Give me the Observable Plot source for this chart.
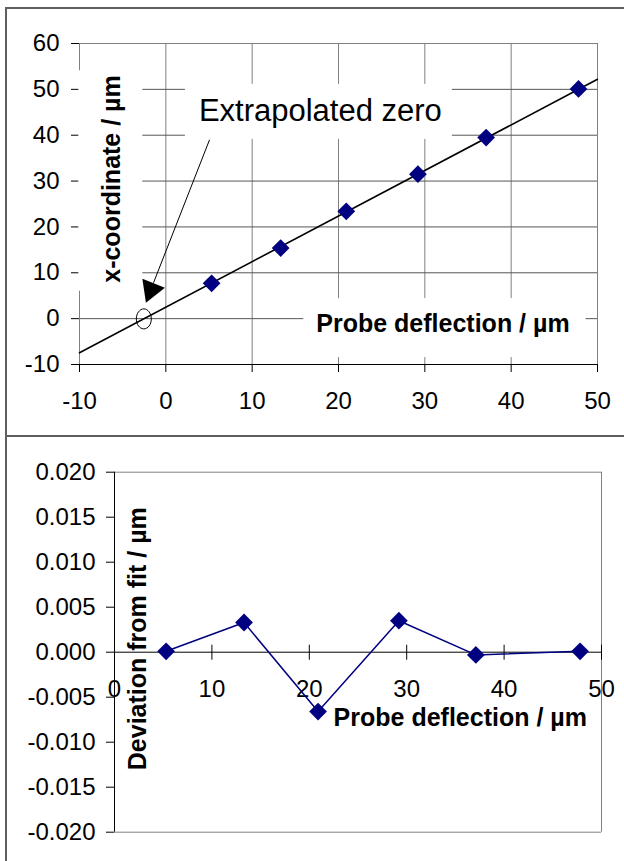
<!DOCTYPE html>
<html><head><meta charset="utf-8">
<script src="https://cdn.jsdelivr.net/npm/d3@7"></script>
<script src="https://cdn.jsdelivr.net/npm/@observablehq/plot@0.6"></script>
<style>
html,body{margin:0;padding:0;background:#fff;}
#wrap{position:relative;width:624px;height:861px;overflow:hidden;}
#wrap svg{position:absolute;left:0;}
.border{position:absolute;background:#5f5f5f;}
</style></head><body><div id="wrap"></div>
<script>
// ---- data ----
const deflection  = [5.3, 13.3, 20.9, 29.2, 37.1, 47.8];
const xCoordinate = [7.7, 15.4, 23.4, 31.5, 39.5, 50.1];
const deviation   = [0.0001, 0.0033, -0.0066, 0.0035, -0.0003, 0.0001];
const fitX = [-10, 50];
const fitY = [-7.45, 52.2];

const topXTicks = [-10, 0, 10, 20, 30, 40, 50];
const topYTicks = [-10, 0, 10, 20, 30, 40, 50, 60];
const botXTicks = [0, 10, 20, 30, 40, 50];
const botYTicks = [-0.02, -0.015, -0.01, -0.005, 0, 0.005, 0.01, 0.015, 0.02];

const xTitle = "Probe deflection / µm";
const yTitleTop = "x-coordinate / µm";
const yTitleBottom = "Deviation from fit / µm";
const zeroText = "Extrapolated zero";

// annotation anchors (data units)
const zeroLabelAt = [17.9, 45.3];
const zeroMarkAt  = [-2.55, -0.05];
const arrowFrom   = [5.06, 39.0];
const arrowTo     = [-1.43, 7.8];
const arrowHeadAt = [-1.71, 6.3];
const topXTitleAt = [32.1, -1.2];
const topYTitleAt = [-6.2, 30.45];
const botXTitleAt = [35.5, -0.0073];
const botYTitleAt = [2.41, 0.0015];

// ---- helpers ----
const FONT = "Arial, 'Liberation Sans', Helvetica, sans-serif";
const wrap = document.getElementById("wrap");
const fmtTop = d => String(d);
const fmtBot = d => d3.format(".3f")(d).replace("\u2212", "-");
const at = p => [{x: p[0], y: p[1]}];

const ellipseSymbol = {
  draw(ctx, size) {
    const r = Math.sqrt(size / Math.PI), rx = r * 0.75, ry = r, k = 0.5523;
    ctx.moveTo(rx, 0);
    ctx.bezierCurveTo(rx, ry * k, rx * k, ry, 0, ry);
    ctx.bezierCurveTo(-rx * k, ry, -rx, ry * k, -rx, 0);
    ctx.bezierCurveTo(-rx, -ry * k, -rx * k, -ry, 0, -ry);
    ctx.bezierCurveTo(rx * k, -ry, rx, -ry * k, rx, 0);
    ctx.closePath();
  }
};

// white label boxes behind the given texts (pads: top, right, bottom, left in text frame)
function addBoxes(svg, pads) {
  svg.querySelectorAll("text").forEach(t => {
    const pad = pads[t.textContent.trim()];
    if (!pad) return;
    const b = t.getBBox();
    const r = document.createElementNS("http://www.w3.org/2000/svg", "rect");
    r.setAttribute("x", b.x - pad[3]);
    r.setAttribute("y", b.y - pad[0]);
    r.setAttribute("width", b.width + pad[1] + pad[3]);
    r.setAttribute("height", b.height + pad[0] + pad[2]);
    r.setAttribute("fill", "white");
    r.setAttribute("stroke", "none");
    const tr = t.getAttribute("transform");
    if (tr) r.setAttribute("transform", tr);
    t.parentNode.insertBefore(r, t);
  });
}

// ---- top chart ----
const pts = deflection.map((d, i) => ({x: d, y: xCoordinate[i]}));
const fit = fitX.map((d, i) => ({x: d, y: fitY[i]}));

const topChart = Plot.plot({
  width: 624, height: 434,
  marginLeft: 79, marginRight: 27, marginTop: 43, marginBottom: 70,
  x: {domain: [-10, 50]},
  y: {domain: [-10, 60]},
  style: {fontFamily: FONT, fontSize: "24px", color: "black", background: "transparent"},
  marks: [
    Plot.gridX(topXTicks.slice(1, -1), {stroke: "#808080", strokeOpacity: 1}),
    Plot.gridY(topYTicks.slice(1, -1), {stroke: "#555", strokeOpacity: 1}),
    Plot.ruleY([60], {stroke: "#808080"}),
    Plot.ruleX([50, -10], {stroke: "#808080"}),
    Plot.ruleY([-10], {stroke: "black"}),
    Plot.axisX(topXTicks, {anchor: "bottom", tickSize: 8, tickPadding: 19, label: null, tickFormat: fmtTop, fontSize: 24}),
    Plot.axisY(topYTicks, {anchor: "left", tickSize: 8, tickPadding: 12, label: null, tickFormat: fmtTop, fontSize: 24}),
    Plot.text(at(zeroLabelAt), {x: "x", y: "y", text: () => zeroText, fontSize: 31}),
    Plot.text(at(topXTitleAt), {x: "x", y: "y", text: () => xTitle, fontSize: 25, fontWeight: "bold"}),
    Plot.text(at(topYTitleAt), {x: "x", y: "y", text: () => yTitleTop, fontSize: 25, fontWeight: "bold", rotate: -90}),
    Plot.line(fit, {x: "x", y: "y", stroke: "black", strokeWidth: 1.6}),
    Plot.dot(pts, {x: "x", y: "y", symbol: "diamond2", r: 8, fill: "#000080", stroke: "none"}),
    Plot.link([{x1: arrowFrom[0], y1: arrowFrom[1], x2: arrowTo[0], y2: arrowTo[1]}], {x1: "x1", y1: "y1", x2: "x2", y2: "y2", stroke: "black", strokeWidth: 1}),
    Plot.dot(at(arrowHeadAt), {x: "x", y: "y", symbol: "triangle", r: 9, rotate: 201.6, fill: "black", stroke: "none"}),
    Plot.dot(at(zeroMarkAt), {x: "x", y: "y", symbol: ellipseSymbol, r: 10, fill: "none", stroke: "black", strokeWidth: 1})
  ]
});
topChart.style.top = "0px";
wrap.appendChild(topChart);
addBoxes(topChart, {
  [zeroText]: [9, 10, 11, 14],
  [xTitle]: [11, 16, 20, 13],
  [yTitleTop]: [19, 5, 17, 8]
});

// ---- bottom chart ----
const BH = 425, BMT = 35.7, BMB = 29.3;
const yb = Plot.scale({y: {domain: [-0.02, 0.02], range: [BH - BMB, BMT]}});
const axisDy = (yb.apply(0) - 7) - (BH - BMB);
const dev = deflection.map((d, i) => ({x: d, y: deviation[i]}));

const botChart = Plot.plot({
  width: 624, height: BH,
  marginLeft: 114, marginRight: 23, marginTop: BMT, marginBottom: BMB,
  x: {domain: [0, 50]},
  y: {domain: [-0.02, 0.02]},
  style: {fontFamily: FONT, fontSize: "24px", color: "black", background: "transparent"},
  marks: [
    Plot.ruleY([0.02, -0.02], {stroke: "#808080"}),
    Plot.ruleX([50], {stroke: "#808080"}),
    Plot.ruleX([0], {stroke: "black"}),
    Plot.ruleY([0], {stroke: "black"}),
    Plot.axisY(botYTicks, {anchor: "left", tickSize: 8, tickPadding: 11, label: null, tickFormat: fmtBot, fontSize: 24}),
    Plot.axisX(botXTicks, {anchor: "bottom", tickSize: 15, tickPadding: 20, label: null, tickFormat: fmtTop, fontSize: 24, dy: axisDy}),
    Plot.line(dev, {x: "x", y: "y", stroke: "#000080", strokeWidth: 1.5}),
    Plot.dot(dev, {x: "x", y: "y", symbol: "diamond2", r: 8, fill: "#000080", stroke: "none"}),
    Plot.text(at(botYTitleAt), {x: "x", y: "y", text: () => yTitleBottom, fontSize: 25, fontWeight: "bold", rotate: -90}),
    Plot.text(at(botXTitleAt), {x: "x", y: "y", text: () => xTitle, fontSize: 25, fontWeight: "bold"})
  ]
});
botChart.style.top = "436px";
wrap.appendChild(botChart);

// ---- panel borders ----
for (const [l, t, w, h] of [[5, 7, 619, 2], [5, 7, 2, 854], [5, 435, 619, 2]]) {
  const d = document.createElement("div");
  d.className = "border";
  Object.assign(d.style, {left: l + "px", top: t + "px", width: w + "px", height: h + "px"});
  wrap.appendChild(d);
}
</script></body></html>
